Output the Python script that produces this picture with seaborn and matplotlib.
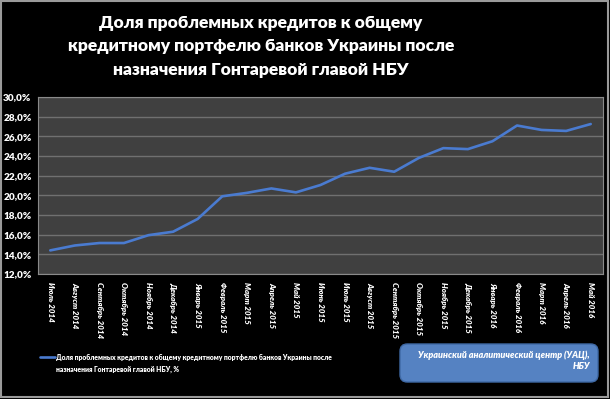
import matplotlib
matplotlib.use("Agg")
import matplotlib.pyplot as plt
import seaborn as sns
import pandas as pd
from matplotlib.patches import FancyBboxPatch, Rectangle
from matplotlib.ticker import FuncFormatter

months = ["Июль 2014", "Август 2014", "Сентябрь 2014", "Октябрь 2014", "Ноябрь 2014",
          "Декабрь 2014", "Январь 2015", "Февраль 2015", "Март 2015", "Апрель 2015",
          "Май 2015", "Июнь 2015", "Июль 2015", "Август 2015", "Сентябрь 2015",
          "Октябрь 2015", "Ноябрь 2015", "Декабрь 2015", "Январь 2016", "Февраль 2016",
          "Март 2016", "Апрель 2016", "Май 2016"]
values = [14.4, 14.9, 15.15, 15.15, 15.95, 16.3, 17.6, 19.9, 20.25, 20.7,
          20.3, 21.05, 22.2, 22.8, 22.4, 23.8, 24.8, 24.7, 25.5, 27.1,
          26.65, 26.55, 27.25]
y_ticks = [12, 14, 16, 18, 20, 22, 24, 26, 28, 30]
title = "Доля проблемных кредитов к общему\nкредитному портфелю банков Украины после\nназначения Гонтаревой главой НБУ"
series_name = "Доля проблемных кредитов к общему кредитному портфелю банков Украины после\nназначения Гонтаревой главой НБУ, %"
source = "Украинский аналитический центр (УАЦ),\nНБУ"

sns.set_theme(style="dark")
plt.rcParams['font.family'] = ['Lato', 'Open Sans', 'DejaVu Sans']

df = pd.DataFrame({"idx": range(len(months)), "value": values})

fig = plt.figure(figsize=(6.10, 3.99), dpi=100, facecolor="black")
fig.patches.append(Rectangle((0.002, 0.004), 0.994, 0.993, transform=fig.transFigure,
                             facecolor="none", edgecolor="#9a9a9a", linewidth=1.5))
ax = fig.add_axes([38/610, 1 - 274/399, (603-38)/610, (274-97)/399])
ax.set_facecolor("#404040")

sns.lineplot(data=df, x="idx", y="value", ax=ax, color="#4a7bd0", linewidth=1.9)

ax.set_xlim(-0.5, len(months) - 0.5)
ax.set_ylim(12, 30)
ax.set_yticks(y_ticks)
ax.yaxis.set_major_formatter(FuncFormatter(lambda v, p: f"{v:.1f}%".replace(".", ",")))
ax.set_xticks(range(len(months)))
ax.set_xticklabels(months, rotation=270, fontsize=5.7, fontweight="heavy",
                   fontstyle="italic", color="white", va="top", ha="center")
for lab in ax.get_yticklabels():
    lab.set_fontsize(7.2)
    lab.set_fontweight("heavy")
    lab.set_color("white")
    lab.set_horizontalalignment("left")
ax.tick_params(axis="y", pad=25, length=0)
ax.tick_params(axis="x", pad=6, length=0)
ax.grid(axis="y", color="#707070", linewidth=1.0)
ax.grid(axis="x", visible=False)
for s in ax.spines.values():
    s.set_visible(True)
    s.set_color("#8a8a8a")
    s.set_linewidth(0.8)
ax.set_xlabel("")
ax.set_ylabel("")

fig.text(261/610, 1 - 46.5/399, title, ha="center", va="center", color="white",
         fontsize=12.6, fontweight="heavy", linespacing=1.6)

# legend
fig.lines.append(plt.Line2D([40/610, 55/610], [1 - 357/399, 1 - 357/399],
                            transform=fig.transFigure, color="#4a7bd0", linewidth=1.9))
fig.text(56/610, 1 - 363.5/399, series_name, ha="left", va="center", color="white",
         fontsize=4.85, fontweight="heavy", linespacing=1.75)

# source box
box = FancyBboxPatch((400/610, 1 - 382/399), 198/610, 38/399,
                     boxstyle="round,pad=0,rounding_size=0.012",
                     transform=fig.transFigure, facecolor="#5582c2",
                     edgecolor="#3f69a5", linewidth=1.0, mutation_aspect=610/399)
fig.patches.append(box)
fig.text(590/610, 1 - 361/399, source, ha="right", va="center", color="white",
         fontsize=6.5, fontweight="heavy", fontstyle="italic", linespacing=1.35)

fig.savefig("out.png", dpi=100, facecolor="black")
